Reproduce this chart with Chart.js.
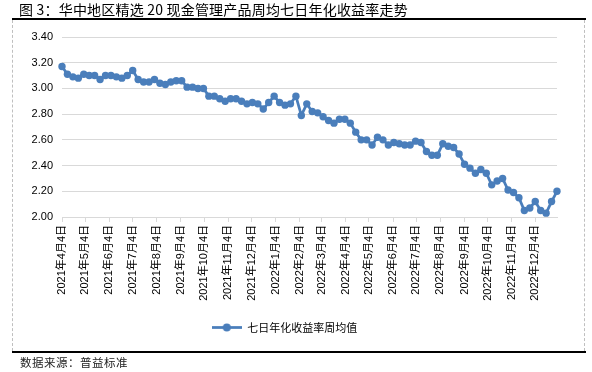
<!DOCTYPE html>
<html lang="zh-CN">
<head>
<meta charset="UTF-8">
<title>华中地区精选20现金管理产品周均七日年化收益率走势</title>
<script src="https://cdn.jsdelivr.net/npm/chart.js"></script>
<style>
  body { margin: 0; background: #fff; }
  #wrap { position: relative; width: 592px; height: 372px; overflow: hidden; font-family: "Noto Sans CJK SC", sans-serif; }
  #title { position: absolute; left: 19px; top: 0px; font-size: 14px; line-height: 18px; color: #000; white-space: nowrap; letter-spacing: 0.2px; }
  #topLine { position: absolute; left: 12px; top: 18px; width: 574px; height: 2px; background: #000; }
  #bottomLine { position: absolute; left: 12px; top: 351px; width: 574px; height: 2px; background: #000; }
  .dash { position: absolute; top: 20px; height: 331px; border-left: 1px dashed #bfbfbf; }
  #source { position: absolute; left: 20px; top: 354px; font-size: 11.5px; line-height: 16px; color: #222; letter-spacing: 0.5px; }
  #chartBox { position: absolute; left: 0; top: 0; width: 592px; height: 372px; }
</style>
</head>
<body>
<div id="wrap">
  <div id="chartBox"><canvas id="yieldChart"></canvas></div>
  <div id="title">图 3：华中地区精选 20 现金管理产品周均七日年化收益率走势</div>
  <div id="topLine"></div>
  <div class="dash" style="left:12px"></div>
  <div class="dash" style="left:584px"></div>
  <div id="bottomLine"></div>
  <div id="source">数据来源：普益标准</div>
</div>

<script>
// 周度数据，起始日 2021-04-04，每周一个点
var startDate = '2021-04-04';
var seriesName = '七日年化收益率周均值';
var yieldValues = [
  3.17, 3.11, 3.09, 3.08, 3.11, 3.10, 3.10, 3.07, 3.10, 3.10,
  3.09, 3.08, 3.10, 3.14, 3.07, 3.05, 3.05, 3.07, 3.04, 3.03,
  3.05, 3.06, 3.06, 3.01, 3.01, 3.00, 3.00, 2.94, 2.94, 2.92,
  2.90, 2.92, 2.92, 2.90, 2.88, 2.89, 2.88, 2.84, 2.89, 2.94,
  2.89, 2.87, 2.88, 2.94, 2.79, 2.88, 2.82, 2.81, 2.78, 2.75,
  2.73, 2.76, 2.76, 2.73, 2.66, 2.60, 2.60, 2.56, 2.62, 2.60,
  2.56, 2.58, 2.57, 2.56, 2.56, 2.59, 2.58, 2.51, 2.48, 2.48,
  2.57, 2.55, 2.54, 2.49, 2.41, 2.38, 2.34, 2.37, 2.34, 2.25,
  2.28, 2.30, 2.21, 2.19, 2.15, 2.05, 2.07, 2.12, 2.05, 2.03,
  2.12, 2.20
];
var tickLabels = [
  '2021年4月4日', '2021年5月4日', '2021年6月4日', '2021年7月4日', '2021年8月4日',
  '2021年9月4日', '2021年10月4日', '2021年11月4日', '2021年12月4日', '2022年1月4日',
  '2022年2月4日', '2022年3月4日', '2022年4月4日', '2022年5月4日', '2022年6月4日',
  '2022年7月4日', '2022年8月4日', '2022年9月4日', '2022年10月4日', '2022年11月4日',
  '2022年12月4日'
];
var yTicks = [2.00, 2.20, 2.40, 2.60, 2.80, 3.00, 3.20, 3.40];

var DAY = 86400000;
var t0 = Date.parse(startDate);
function labelToDay(s) {
  var m = s.match(/(\d+)年(\d+)月(\d+)日/);
  return Math.round((Date.UTC(+m[1], +m[2] - 1, +m[3]) - t0) / DAY);
}
var tickDays = tickLabels.map(labelToDay);
var points = yieldValues.map(function (v, i) { return { x: i * 7, y: v }; });

var lineColor = '#4a7ebb';
var fontFam = '"Liberation Sans", "Noto Sans CJK SC", sans-serif';

// 图例：折线 + 圆点
var legendIcon = document.createElement('canvas');
legendIcon.width = 30; legendIcon.height = 9;
var ic = legendIcon.getContext('2d');
ic.strokeStyle = lineColor; ic.lineWidth = 2.75;
ic.beginPath(); ic.moveTo(0, 4.5); ic.lineTo(30, 4.5); ic.stroke();
ic.fillStyle = lineColor;
ic.beginPath(); ic.arc(15, 4.5, 4, 0, Math.PI * 2); ic.fill();

var ctx = document.getElementById('yieldChart').getContext('2d');
var chart = new Chart(ctx, {
  type: 'line',
  data: {
    datasets: [{
      label: seriesName,
      data: points,
      borderColor: lineColor,
      backgroundColor: lineColor,
      borderWidth: 2.75,
      pointRadius: 3.7,
      pointBorderWidth: 0,
      pointBackgroundColor: lineColor,
      tension: 0,
      fill: false,
      clip: false
    }]
  },
  options: {
    responsive: true,
    maintainAspectRatio: false,
    animation: false,
    layout: { padding: { left: 12, right: 35, top: 37, bottom: 29 } },
    plugins: {
      tooltip: { enabled: false },
      legend: {
        position: 'bottom',
        labels: {
          usePointStyle: true,
          pointStyleWidth: 30,
          color: '#333',
          font: { size: 11, family: '"Noto Sans CJK SC", sans-serif' },
          generateLabels: function (c) {
            return [{ text: seriesName, pointStyle: legendIcon, fillStyle: lineColor, strokeStyle: lineColor, lineWidth: 0, datasetIndex: 0 }];
          }
        }
      }
    },
    scales: {
      x: {
        type: 'linear',
        min: 0,
        max: (yieldValues.length - 1) * 7,
        afterBuildTicks: function (scale) {
          scale.ticks = tickDays.map(function (d) { return { value: d }; });
        },
        afterFit: function (scale) { scale.height = 95; },
        grid: { drawOnChartArea: false, color: '#d9d9d9', tickLength: 5 },
        border: { color: '#d9d9d9' },
        ticks: {
          autoSkip: false,
          minRotation: 90,
          maxRotation: 90,
          padding: 3,
          color: '#000',
          font: { size: 11, family: fontFam },
          callback: function (v) {
            var k = tickDays.indexOf(v);
            return k >= 0 ? tickLabels[k] : '';
          }
        }
      },
      y: {
        min: 2,
        max: 3.4,
        afterBuildTicks: function (scale) {
          scale.ticks = yTicks.map(function (v) { return { value: v }; });
        },
        afterFit: function (scale) { scale.width = 50; },
        grid: { color: '#d9d9d9', drawTicks: false },
        border: { display: false },
        ticks: {
          padding: 9,
          color: '#000',
          font: { size: 11, family: fontFam },
          callback: function (v) { return v.toFixed(2); }
        }
      }
    }
  }
});
</script>
</body>
</html>
